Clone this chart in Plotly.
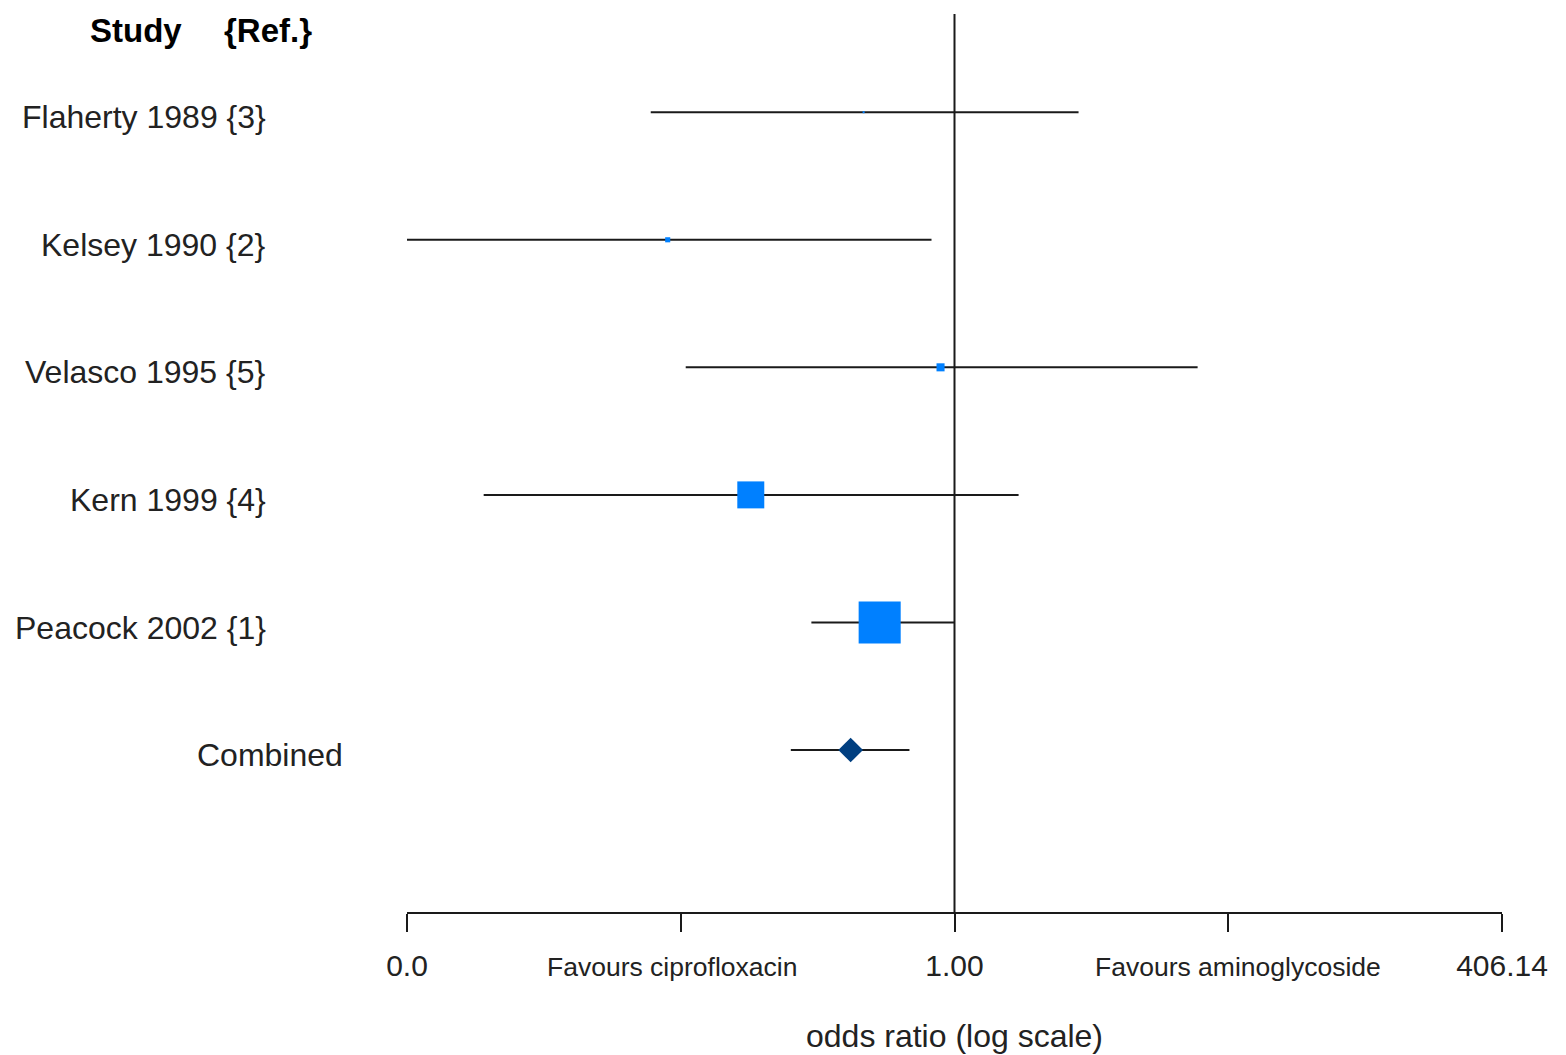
import plotly.graph_objects as go
import math

# ---- data ----
studies = ["Flaherty 1989 {3}", "Kelsey 1990 {2}", "Velasco 1995 {5}",
           "Kern 1999 {4}", "Peacock 2002 {1}"]
odds_ratio = [0.369, 0.043, 0.858, 0.107, 0.44]
ci_low = [0.0357, 0.00246, 0.0524, 0.00571, 0.208]
ci_high = [3.9, 0.777, 14.4, 2.02, 1.0]
weights = [0.15, 1.0, 2.5, 28.0, 68.0]  # percent weight (box area)

combined_label = "Combined"
combined_or = 0.32
combined_low = 0.166
combined_high = 0.61

axis_max = 406.14
tick_vals = [1 / axis_max, 1 / math.sqrt(axis_max), 1.0, math.sqrt(axis_max), axis_max]
tick_text = ["0.0", "", "1.00", "", "406.14"]
favour_labels = ["Favours ciprofloxacin", "Favours aminoglycoside"]

n = len(studies)
rows = [n + 1 - i for i in range(n)]  # 6..2
combined_row = 1

FONT = "Liberation Sans, Arial, sans-serif"
LINE = "#1a1a1a"
LABEL_SHIFT = -0.04  # labels sit slightly below the line

fig = go.Figure()

# CI lines
for i in range(n):
    fig.add_trace(go.Scatter(x=[ci_low[i], ci_high[i]], y=[rows[i], rows[i]],
                             mode="lines", line=dict(color=LINE, width=2),
                             hoverinfo="skip", showlegend=False))
fig.add_trace(go.Scatter(x=[combined_low, combined_high], y=[combined_row, combined_row],
                         mode="lines", line=dict(color=LINE, width=2),
                         hoverinfo="skip", showlegend=False))

# boxes
sizes = [max(2, 5.1 * math.sqrt(w)) for w in weights]
fig.add_trace(go.Scatter(x=odds_ratio, y=rows, mode="markers",
                         marker=dict(symbol="square", size=sizes, color="#0080FF",
                                     opacity=1, line=dict(width=0)),
                         text=studies, showlegend=False))
fig.add_trace(go.Scatter(x=[combined_or], y=[combined_row], mode="markers",
                         marker=dict(symbol="diamond", size=19, color="#003F80",
                                     opacity=1, line=dict(width=0)),
                         text=[combined_label], showlegend=False))

# reference line at 1
fig.add_shape(type="line", xref="x", yref="paper", x0=1, x1=1, y0=0, y1=1,
              line=dict(color=LINE, width=2), layer="below")

# study labels
for i in range(n):
    fig.add_annotation(x=-0.127, xref="paper", y=rows[i] + LABEL_SHIFT, yref="y",
                       text=studies[i], showarrow=False, xanchor="right", yanchor="middle",
                       font=dict(family=FONT, size=32, color="#222"))
fig.add_annotation(x=-0.057, xref="paper", y=combined_row + LABEL_SHIFT, yref="y",
                   text=combined_label, showarrow=False, xanchor="right", yanchor="middle",
                   font=dict(family=FONT, size=32, color="#222"))

# header
fig.add_annotation(x=(88 - 407) / 1095, xref="paper", y=(912 - 30) / 898, yref="paper",
                   text="<b>Study</b>", showarrow=False, xanchor="left", yanchor="middle",
                   font=dict(family=FONT, size=33, color="#000"))
fig.add_annotation(x=(222 - 407) / 1095, xref="paper", y=(912 - 30) / 898, yref="paper",
                   text="<b>{Ref.}</b>", showarrow=False, xanchor="left", yanchor="middle",
                   font=dict(family=FONT, size=33, color="#000"))

# favours labels
for px, lab in [(0.2420, favour_labels[0]), (0.7589, favour_labels[1])]:
    fig.add_annotation(x=px, xref="paper", y=-0.061, yref="paper", text=lab,
                       showarrow=False, xanchor="center", yanchor="middle",
                       font=dict(family=FONT, size=26.5, color="#222"))

fig.update_xaxes(type="log", range=[-math.log10(axis_max), math.log10(axis_max)],
                 tickvals=tick_vals, ticktext=tick_text, ticks="outside", ticklen=18,
                 tickwidth=2, tickcolor=LINE, showline=True, linecolor=LINE, linewidth=2,
                 showgrid=False, zeroline=False, ticklabelstandoff=8, automargin=False,
                 tickfont=dict(family=FONT, size=30, color="#222"),
                 title=dict(text="odds ratio (log scale)", standoff=44,
                            font=dict(family=FONT, size=32, color="#222")))
fig.update_yaxes(range=[-0.27, 6.77], showticklabels=False, showgrid=False,
                 zeroline=False, showline=False, ticks="", automargin=False)

fig.update_layout(width=1566, height=1055, plot_bgcolor="white", paper_bgcolor="white",
                  margin=dict(l=407, r=64, t=14, b=143), showlegend=False)

fig.write_html("out.html")
